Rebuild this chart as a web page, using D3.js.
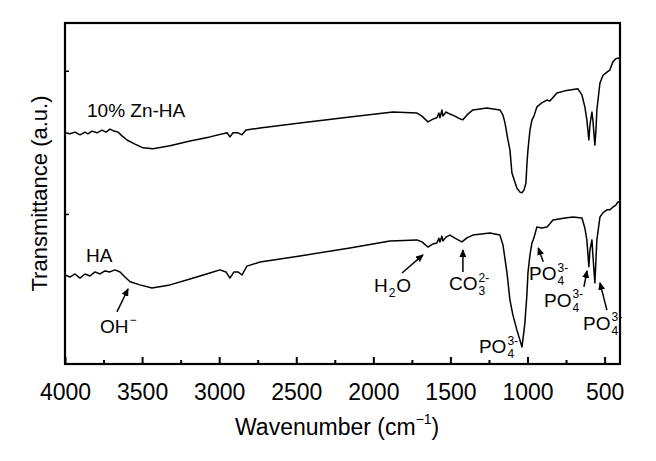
<!DOCTYPE html>
<html>
<head>
<meta charset="utf-8">
<script src="https://cdn.jsdelivr.net/npm/d3@7"></script>
<style>
  body { margin: 0; background: #fff; }
  svg text { font-family: "Liberation Sans", Arial, sans-serif; fill: #000; }
</style>
</head>
<body>
<svg id="chart" width="656" height="461"></svg>
<script>
// FTIR spectra (transmittance in arbitrary units, 0-100)
var znWave = [4000, 3968, 3935, 3903, 3870, 3851, 3825, 3792, 3760, 3734, 3708, 3682, 3656, 3630, 3598,
  3546, 3494, 3429, 3319, 3189, 3060, 2949, 2930, 2910, 2878, 2852, 2826, 2735, 2476, 2152, 1873, 1717,
  1685, 1646, 1613, 1588, 1575, 1568, 1555, 1549, 1529, 1503, 1471, 1438, 1419, 1387, 1354, 1263, 1179,
  1159, 1146, 1127, 1114, 1101, 1082, 1069, 1049, 1036, 1023, 1010, 1004, 997, 984, 971, 958, 939, 907,
  874, 855, 809, 757, 673, 647, 628, 615, 602, 595, 582, 576, 563, 556, 550, 530, 511, 485, 466, 446,
  427, 414, 401];
var znTrans = [67.8, 67.5, 68.0, 67.2, 68.0, 67.5, 68.3, 67.8, 68.6, 68.0, 68.9, 68.3, 68.0, 66.9, 65.7,
  64.5, 63.4, 63.1, 64.0, 65.4, 66.6, 67.8, 66.6, 67.8, 67.8, 67.2, 68.6, 69.2, 70.7, 72.4, 73.9, 73.6,
  72.7, 71.0, 71.8, 72.2, 73.6, 72.2, 74.5, 72.7, 73.9, 73.3, 72.7, 71.9, 71.6, 73.3, 74.5, 75.1, 74.5,
  73.0, 70.7, 65.7, 62.8, 56.0, 53.4, 51.6, 50.4, 50.2, 51.0, 53.1, 58.4, 62.8, 68.6, 71.6, 72.7, 75.4, 76.6,
  77.4, 77.1, 79.5, 80.1, 80.7, 78.9, 75.4, 71.6, 65.7, 70.1, 73.9, 71.6, 64.2, 68.6, 74.5, 82.4, 84.6, 85.6, 86.2, 88.6,
  89.5, 89.7, 89.5];

var haWave = [4000, 3968, 3935, 3903, 3870, 3838, 3805, 3773, 3741, 3708, 3676, 3643, 3611, 3578, 3514,
  3436, 3319, 3189, 3060, 2995, 2956, 2930, 2904, 2878, 2852, 2820, 2735, 2476, 2152, 1892, 1717, 1685,
  1646, 1613, 1588, 1575, 1568, 1555, 1549, 1529, 1503, 1471, 1438, 1425, 1393, 1354, 1244, 1179, 1159,
  1133, 1114, 1095, 1069, 1049, 1036, 1030, 1017, 1004, 997, 984, 971, 958, 939, 907, 874, 855, 835, 757,
  705, 647, 628, 615, 602, 595, 582, 576, 563, 556, 550, 530, 511, 485, 466, 446, 427, 414, 401];
var haTrans = [26.1, 25.5, 26.4, 25.2, 26.4, 25.8, 27.0, 26.4, 27.3, 27.0, 27.6, 27.0, 25.5, 24.1, 23.2,
  22.3, 23.2, 24.9, 26.7, 27.6, 27.0, 25.2, 27.0, 27.0, 26.1, 28.7, 29.9, 31.7, 34.0, 36.1, 36.4, 35.8,
  34.3, 35.2, 35.5, 36.9, 35.8, 37.5, 36.1, 37.2, 37.8, 36.9, 36.1, 35.8, 37.0, 37.8, 38.4, 37.8, 34.9,
  26.7, 18.8, 14.4, 10.0, 7.0, 5.0, 7.0, 12.0, 20.2, 26.7, 32.0, 35.5, 37.0, 40.2, 39.9, 40.2, 41.1, 42.2, 42.8,
  43.1, 42.8, 39.9, 36.4, 28.5, 33.4, 36.4, 32.0, 23.8, 30.5, 36.4, 43.1, 44.3, 45.2, 45.2, 46.0, 46.6, 47.5, 47.5];

var xMajorTicks = [4000, 3500, 3000, 2500, 2000, 1500, 1000, 500];
var xMinorTicks = [3750, 3250, 2750, 2250, 1750, 1250, 750];
var yTicks = [44, 86];

var seriesLabels = ['10% Zn-HA', 'HA'];
var seriesLabelPos = [[3857, 72.4], [3864, 29.9]];

// band annotations: label, label position, arrow from -> to (data units)
var bandNames = ['OH', 'H2O', 'CO3', 'PO4', 'PO4', 'PO4', 'PO4'];
var bandLabelPos = [[3773, 9.1], [1996, 21.1], [1509, 21.7], [1315, 3.2], [990, 24.6], [893, 16.8], [640, 10.0]];
var bandArrows = [
  [[3663, 15.3], [3591, 22.0]],
  [[1814, 26.7], [1678, 32.0]],
  [[1419, 27.0], [1419, 33.4]],
  null,
  [[898, 30.0], [930, 34.0]],
  [[634, 22.6], [614, 27.3]],
  [[485, 15.8], [530, 23.8]]
];

var margin = {left: 65, right: 36, top: 23, bottom: 97};
var width = 656, height = 461;

var svg = d3.select('#chart');

var x = d3.scaleLinear().domain([4000, 400]).range([margin.left, width - margin.right]);
var y = d3.scaleLinear().domain([0, 100]).range([height - margin.bottom, margin.top]);

svg.append('defs').append('clipPath').attr('id', 'plot-clip')
  .append('rect')
  .attr('x', x.range()[0]).attr('y', y.range()[1])
  .attr('width', x.range()[1] - x.range()[0])
  .attr('height', y.range()[0] - y.range()[1]);

svg.select('defs').append('marker')
  .attr('id', 'arrow')
  .attr('markerUnits', 'userSpaceOnUse')
  .attr('markerWidth', 8).attr('markerHeight', 7)
  .attr('refX', 7).attr('refY', 3.5)
  .attr('orient', 'auto')
  .append('path')
  .attr('d', 'M0,0 L8,3.5 L0,7 Z')
  .attr('fill', '#000');

// spectra
var line = d3.line()
  .x(function(d) { return x(d[0]); })
  .y(function(d) { return y(d[1]); });

var spectra = [d3.zip(znWave, znTrans), d3.zip(haWave, haTrans)];

svg.append('g').attr('clip-path', 'url(#plot-clip)')
  .selectAll('path')
  .data(spectra)
  .enter()
  .append('path')
  .attr('d', line)
  .attr('fill', 'none')
  .attr('stroke', '#000')
  .attr('stroke-width', 1.5)
  .attr('stroke-linejoin', 'round');

// axes
var xAxis = svg.append('g')
  .attr('transform', 'translate(0,' + y.range()[0] + ')')
  .call(d3.axisBottom(x).tickValues(xMajorTicks).tickSize(-7).tickPadding(20).tickFormat(d3.format('d')));
xAxis.select('.domain').remove();
xAxis.selectAll('line').attr('stroke-width', 2);
xAxis.selectAll('text').style('font-size', '23px');

var xMinor = svg.append('g')
  .attr('transform', 'translate(0,' + y.range()[0] + ')')
  .call(d3.axisBottom(x).tickValues(xMinorTicks).tickSize(-4).tickFormat(''));
xMinor.select('.domain').remove();
xMinor.selectAll('line').attr('stroke-width', 2);

var yAxis = svg.append('g')
  .attr('transform', 'translate(' + x.range()[0] + ',0)')
  .call(d3.axisLeft(y).tickValues(yTicks).tickSize(-4).tickFormat(''));
yAxis.select('.domain').remove();
yAxis.selectAll('line').attr('stroke-width', 1.5);

svg.append('rect')
  .attr('x', x.range()[0]).attr('y', y.range()[1])
  .attr('width', x.range()[1] - x.range()[0])
  .attr('height', y.range()[0] - y.range()[1])
  .attr('fill', 'none')
  .attr('stroke', '#000')
  .attr('stroke-width', 2.2);

// axis titles
var xTitle = svg.append('text')
  .attr('x', 235).attr('y', 435)
  .style('font-size', '23px');
xTitle.append('tspan').text('Wavenumber (cm');
xTitle.append('tspan').attr('dy', -11).style('font-size', '14px').text('\u22121');
xTitle.append('tspan').attr('dy', 11).text(')');

svg.append('text')
  .attr('transform', 'translate(47,' + ((y.range()[0] + y.range()[1]) / 2) + ') rotate(-90)')
  .attr('text-anchor', 'middle')
  .style('font-size', '22px')
  .text('Transmittance (a.u.)');

// series labels
svg.selectAll('.series-label')
  .data(seriesLabels)
  .enter()
  .append('text')
  .attr('class', 'series-label')
  .attr('x', function(d, i) { return x(seriesLabelPos[i][0]); })
  .attr('y', function(d, i) { return y(seriesLabelPos[i][1]); })
  .style('font-size', '19px')
  .text(function(d) { return d; });

// chemical labels with stacked super/subscripts
function chem(px, py, base, sup, sub, tail) {
  var g = svg.append('g');
  var t = g.append('text').attr('x', px).attr('y', py).style('font-size', '19px').text(base);
  var w = t.node().getComputedTextLength() + 1;
  var extra = 0;
  if (sup) {
    var s = g.append('text').attr('x', px + w).attr('y', py - 8.5).style('font-size', '12px').text(sup);
    extra = Math.max(extra, s.node().getComputedTextLength());
  }
  if (sub) {
    var b = g.append('text').attr('x', px + w).attr('y', py + 5).style('font-size', '12px').text(sub);
    extra = Math.max(extra, b.node().getComputedTextLength());
  }
  if (tail) {
    g.append('text').attr('x', px + w + extra + 1).attr('y', py).style('font-size', '19px').text(tail);
  }
}

bandNames.forEach(function(name, i) {
  var px = x(bandLabelPos[i][0]), py = y(bandLabelPos[i][1]);
  if (name === 'OH') chem(px, py, 'OH', '\u2212', null, null);
  if (name === 'H2O') chem(px, py, 'H', null, '2', 'O');
  if (name === 'CO3') chem(px, py, 'CO', '2-', '3', null);
  if (name === 'PO4') chem(px, py, 'PO', '3-', '4', null);
});

svg.selectAll('.band-arrow')
  .data(bandArrows.filter(function(a) { return a; }))
  .enter()
  .append('line')
  .attr('class', 'band-arrow')
  .attr('x1', function(d) { return x(d[0][0]); })
  .attr('y1', function(d) { return y(d[0][1]); })
  .attr('x2', function(d) { return x(d[1][0]); })
  .attr('y2', function(d) { return y(d[1][1]); })
  .attr('stroke', '#000')
  .attr('stroke-width', 1.5)
  .attr('marker-end', 'url(#arrow)');
</script>
</body>
</html>
